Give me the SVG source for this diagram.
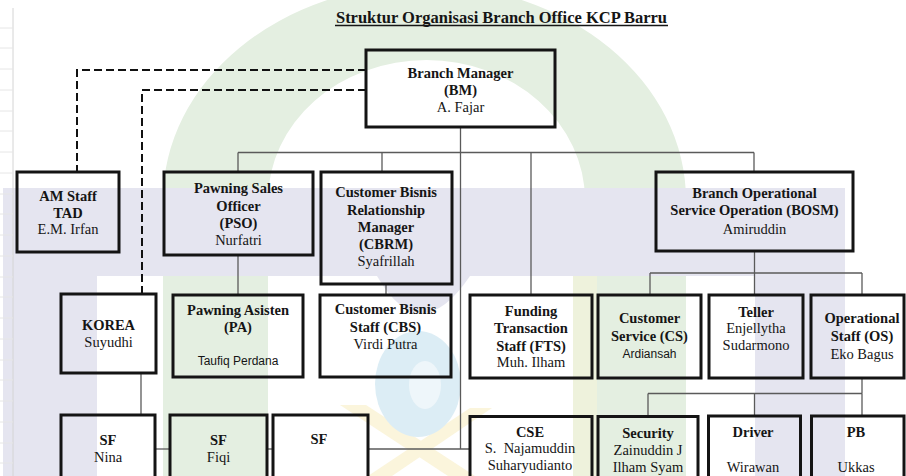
<svg xmlns="http://www.w3.org/2000/svg" width="906" height="476" viewBox="0 0 906 476">
  <style>
    .box { fill: none; stroke: #141414; stroke-width: 3; }
    .conn { fill: none; stroke: #5a5a5a; stroke-width: 1.3; }
    .dash { fill: none; stroke: #111; stroke-width: 2; stroke-dasharray: 8 4; }
    .t { font-family: "Liberation Serif", "Times New Roman", serif; font-size: 14.5px; fill: #151515; text-anchor: middle; }
    .b { font-weight: bold; }
    .s { font-family: "Liberation Sans", Arial, sans-serif; font-size: 12px; }
    .grid { stroke: #d4d4d4; stroke-width: 1; }
    .tick { stroke: #e6e6e6; stroke-width: 1; }
  </style>

  <rect x="0" y="0" width="906" height="476" fill="#ffffff"/>

  <!-- faint background emblem -->
  <g id="emblem">
    <path d="M163,476 L163,200 A261,215 0 0 1 686,200 L686,476 L585,476 L585,200 A158.5,140 0 0 0 268,200 L268,476 Z" fill="#e4efe1"/>
    <rect x="573" y="276" width="24" height="200" fill="#eef2dc"/>
    <path d="M340,405 L366,405 L475,476 L448,476 Z" fill="#fbf5dc"/>
    <path d="M470,408 L492,408 L392,476 L368,476 Z" fill="#fbf5dc"/>
    <ellipse cx="418" cy="384" rx="43" ry="53" fill="#dcedf5"/>
    <ellipse cx="425" cy="385" rx="16" ry="24" fill="#eef6fa"/>
    <path d="M3,188 H845 V476 H755 V276 H97 V476 H3 Z" fill="#e5e5f0"/>
    <path d="M377,276 Q420,350 470,276 Z" fill="#e5e5f0"/>
  </g>

  <!-- sheet gridline -->
  <g id="sheet-edge">
    <line class="grid" x1="13" y1="8" x2="13" y2="476"/>
    <line class="tick" x1="0" y1="28" x2="13" y2="28"/>
    <line class="tick" x1="0" y1="48" x2="13" y2="48"/>
    <line class="tick" x1="0" y1="69" x2="13" y2="69"/>
    <line class="tick" x1="0" y1="90" x2="13" y2="90"/>
    <line class="tick" x1="0" y1="111" x2="13" y2="111"/>
    <line class="tick" x1="0" y1="131" x2="13" y2="131"/>
    <line class="tick" x1="0" y1="152" x2="13" y2="152"/>
    <line class="tick" x1="0" y1="173" x2="13" y2="173"/>
    <line class="tick" x1="0" y1="194" x2="13" y2="194"/>
    <line class="tick" x1="0" y1="214" x2="13" y2="214"/>
    <line class="tick" x1="0" y1="235" x2="13" y2="235"/>
    <line class="tick" x1="0" y1="256" x2="13" y2="256"/>
    <line class="tick" x1="0" y1="277" x2="13" y2="277"/>
    <line class="tick" x1="0" y1="297" x2="13" y2="297"/>
    <line class="tick" x1="0" y1="318" x2="13" y2="318"/>
    <line class="tick" x1="0" y1="339" x2="13" y2="339"/>
    <line class="tick" x1="0" y1="360" x2="13" y2="360"/>
    <line class="tick" x1="0" y1="380" x2="13" y2="380"/>
    <line class="tick" x1="0" y1="401" x2="13" y2="401"/>
    <line class="tick" x1="0" y1="422" x2="13" y2="422"/>
    <line class="tick" x1="0" y1="443" x2="13" y2="443"/>
    <line class="tick" x1="0" y1="463" x2="13" y2="463"/>
  </g>

  <!-- title -->
  <g id="title">
    <text class="t b" x="501.5" y="22.5" style="font-size:16.5px">Struktur Organisasi Branch Office KCP Barru</text>
    <line x1="335" y1="25.5" x2="668" y2="25.5" stroke="#151515" stroke-width="1.3"/>
  </g>

  <!-- connectors -->
  <g id="connectors">
    <!-- dashed staff lines from BM -->
    <polyline class="dash" points="366,70 77,70 77,172"/>
    <polyline class="dash" points="366,90 142,90 142,294"/>
    <!-- BM trunk -->
    <line class="conn" x1="460.5" y1="127" x2="460.5" y2="449"/>
    <line class="conn" x1="238" y1="152.5" x2="754" y2="152.5"/>
    <line class="conn" x1="238" y1="152.5" x2="238" y2="172"/>
    <line class="conn" x1="382" y1="152.5" x2="382" y2="172"/>
    <line class="conn" x1="531" y1="152.5" x2="531" y2="295"/>
    <line class="conn" x1="754" y1="152.5" x2="754" y2="172"/>
    <!-- PSO / CBRM -->
    <line class="conn" x1="238" y1="255" x2="238" y2="295"/>
    <line class="conn" x1="386" y1="284" x2="386" y2="295"/>
    <!-- KOREA to SF row -->
    <line class="conn" x1="141" y1="373" x2="141" y2="415"/>
    <line class="conn" x1="155" y1="449" x2="170" y2="449"/>
    <line class="conn" x1="267" y1="449" x2="273" y2="449"/>
    <line class="conn" x1="368" y1="449" x2="470" y2="449"/>
    <!-- BOSM -->
    <line class="conn" x1="754.5" y1="251" x2="754.5" y2="295"/>
    <line class="conn" x1="650" y1="273" x2="862" y2="273"/>
    <line class="conn" x1="650" y1="273" x2="650" y2="295"/>
    <line class="conn" x1="862" y1="273" x2="862" y2="295"/>
    <!-- OS -->
    <line class="conn" x1="862" y1="378" x2="862" y2="393.5"/>
    <line class="conn" x1="648" y1="393.5" x2="862" y2="393.5"/>
    <line class="conn" x1="648" y1="393.5" x2="648" y2="417"/>
    <line class="conn" x1="754.5" y1="393.5" x2="754.5" y2="416"/>
    <line class="conn" x1="862" y1="393.5" x2="862" y2="416"/>
  </g>

  <g id="bm">
    <rect class="box" x="366" y="50" width="189" height="77"/>
    <text class="t b" x="460.5" y="77.5">Branch Manager</text>
    <text class="t b" x="460.5" y="94.5">(BM)</text>
    <text class="t" x="460.5" y="111.5">A. Fajar</text>
  </g>

  <g id="am-staff">
    <rect class="box" x="17" y="172" width="102" height="80"/>
    <text class="t b" x="68" y="201">AM Staff</text>
    <text class="t b" x="68" y="218">TAD</text>
    <text class="t" x="68" y="234">E.M. Irfan</text>
  </g>

  <g id="pso">
    <rect class="box" x="164" y="172" width="149" height="83"/>
    <text class="t b" x="238.5" y="193">Pawning Sales</text>
    <text class="t b" x="238.5" y="210.5">Officer</text>
    <text class="t b" x="238.5" y="228">(PSO)</text>
    <text class="t" x="238.5" y="245">Nurfatri</text>
  </g>

  <g id="cbrm">
    <rect class="box" x="321" y="172" width="131" height="112"/>
    <text class="t b" x="386" y="197">Customer Bisnis</text>
    <text class="t b" x="386" y="214.5">Relationship</text>
    <text class="t b" x="386" y="232">Manager</text>
    <text class="t b" x="386" y="249">(CBRM)</text>
    <text class="t" x="386" y="266">Syafrillah</text>
  </g>

  <g id="bosm">
    <rect class="box" x="656" y="172" width="197" height="79"/>
    <text class="t b" x="754.5" y="197.5">Branch Operational</text>
    <text class="t b" x="754.5" y="215">Service Operation (BOSM)</text>
    <text class="t" x="754.5" y="233.5">Amiruddin</text>
  </g>

  <g id="korea">
    <rect class="box" x="61" y="294" width="95" height="79"/>
    <text class="t b" x="108.5" y="329.5">KOREA</text>
    <text class="t" x="108.5" y="346.5">Suyudhi</text>
  </g>

  <g id="pa">
    <rect class="box" x="173" y="295" width="130" height="82"/>
    <text class="t b" x="238" y="315">Pawning Asisten</text>
    <text class="t b" x="238" y="332">(PA)</text>
    <text class="t s" x="238" y="365">Taufiq Perdana</text>
  </g>

  <g id="cbs">
    <rect class="box" x="320" y="295" width="131" height="82"/>
    <text class="t b" x="385.5" y="314">Customer Bisnis</text>
    <text class="t b" x="385.5" y="331.5">Staff (CBS)</text>
    <text class="t" x="385.5" y="349">Virdi Putra</text>
  </g>

  <g id="fts">
    <rect class="box" x="470" y="295" width="122" height="83"/>
    <text class="t b" x="531" y="315.5">Funding</text>
    <text class="t b" x="531" y="333">Transaction</text>
    <text class="t b" x="531" y="350.5">Staff (FTS)</text>
    <text class="t" x="531" y="367">Muh. Ilham</text>
  </g>

  <g id="cs">
    <rect class="box" x="598" y="295" width="103" height="83"/>
    <text class="t b" x="649.5" y="323">Customer</text>
    <text class="t b" x="649.5" y="341">Service (CS)</text>
    <text class="t s" x="649.5" y="358">Ardiansah</text>
  </g>

  <g id="teller">
    <rect class="box" x="709" y="295" width="94" height="83"/>
    <text class="t b" x="756" y="316.5">Teller</text>
    <text class="t" x="756" y="333">Enjellytha</text>
    <text class="t" x="756" y="350">Sudarmono</text>
  </g>

  <g id="os">
    <rect class="box" x="811" y="295" width="93" height="83"/>
    <text class="t b" x="862" y="323">Operational</text>
    <text class="t b" x="862" y="340.5">Staff (OS)</text>
    <text class="t" x="862" y="358.5">Eko Bagus</text>
  </g>

  <g id="sf-nina">
    <rect class="box" x="61" y="415" width="94" height="80"/>
    <text class="t b" x="108" y="445">SF</text>
    <text class="t" x="108" y="461.5">Nina</text>
  </g>

  <g id="sf-fiqi">
    <rect class="box" x="170" y="415" width="97" height="80"/>
    <text class="t b" x="218.5" y="445">SF</text>
    <text class="t" x="218.5" y="461.5">Fiqi</text>
  </g>

  <g id="sf-3">
    <rect class="box" x="273" y="415" width="95" height="80"/>
    <text class="t b" x="319" y="443.5">SF</text>
  </g>

  <g id="cse">
    <rect class="box" x="470" y="416.5" width="122" height="80"/>
    <text class="t b" x="530" y="436.5">CSE</text>
    <text class="t" x="530" y="453" xml:space="preserve">S.  Najamuddin</text>
    <text class="t" x="530" y="470">Suharyudianto</text>
  </g>

  <g id="security">
    <rect class="box" x="598" y="416.5" width="100" height="80"/>
    <text class="t b" x="648" y="438">Security</text>
    <text class="t" x="648" y="455">Zainuddin J</text>
    <text class="t" x="648" y="471.5">Ilham Syam</text>
  </g>

  <g id="driver">
    <rect class="box" x="708.5" y="416" width="92" height="80"/>
    <text class="t b" x="753" y="436.5">Driver</text>
    <text class="t" x="753" y="471.5">Wirawan</text>
  </g>

  <g id="pb">
    <rect class="box" x="811.5" y="416" width="92.5" height="80"/>
    <text class="t b" x="856" y="436.5">PB</text>
    <text class="t" x="856" y="471.5">Ukkas</text>
  </g>
</svg>
